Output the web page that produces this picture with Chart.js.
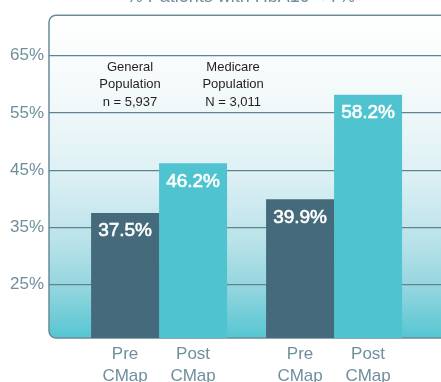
<!DOCTYPE html>
<html>
<head>
<meta charset="utf-8">
<script src="https://cdn.jsdelivr.net/npm/chart.js@4"></script>
<style>
    html, body { margin: 0; padding: 0; background: #fff; }
    #wrap { width: 441px; height: 382px; position: relative; }
</style>
</head>
<body>
<div id="wrap"><canvas id="myChart"></canvas></div>
<script>
const chartTitle = '% Patients with HbA1c < 7%';
const groups = ['General Population', 'Medicare Population'];
const groupSizes = ['n = 5,937', 'N = 3,011'];
const phases = ['Pre CMap', 'Post CMap'];
const preValues = [37.5, 39.9];
const postValues = [46.2, 58.2];
const yTicks = [25, 35, 45, 55, 65];

const FONT = "'Liberation Sans', Arial, sans-serif";
const MUTED = '#6e8f9c';

// one point per group, x is the group index
function toPoints(values) {
    return values.map((v, i) => ({ x: i, y: v }));
}

// rounded plot panel with a white-to-teal gradient
const plotBox = {
    id: 'plotBox',
    beforeDraw(chart) {
        const { ctx, chartArea: a } = chart;
        const r = 7;
        const right = a.right + 10;
        ctx.save();
        ctx.beginPath();
        ctx.moveTo(right, a.top);
        ctx.lineTo(a.left + r, a.top);
        ctx.arcTo(a.left, a.top, a.left, a.top + r, r);
        ctx.lineTo(a.left, a.bottom - r);
        ctx.arcTo(a.left, a.bottom, a.left + r, a.bottom, r);
        ctx.lineTo(right, a.bottom);
        let g = ctx.createLinearGradient(0, a.top, 0, a.bottom);
        g.addColorStop(0, '#ffffff');
        g.addColorStop(0.25, '#f3f9fa');
        g.addColorStop(0.5, '#dcf0f4');
        g.addColorStop(0.7, '#b9e2e9');
        g.addColorStop(0.85, '#92d5de');
        g.addColorStop(1, '#55c6d2');
        ctx.fillStyle = g;
        ctx.fill();
        ctx.strokeStyle = '#6a8c99';
        ctx.lineWidth = 1.5;
        ctx.stroke();
        ctx.restore();
    }
};

// title, group notes, value labels and phase labels under the bars
const textLayer = {
    id: 'textLayer',
    afterDatasetsDraw(chart) {
        const { ctx, chartArea: a, scales } = chart;
        ctx.save();
        ctx.textAlign = 'center';
        ctx.textBaseline = 'middle';

        ctx.fillStyle = MUTED;
        ctx.font = `18px ${FONT}`;
        ctx.fillText(chartTitle, 241, -3);

        const notePos = [-0.166, 0.423];
        ctx.fillStyle = '#231f20';
        ctx.font = `13px ${FONT}`;
        groups.forEach((name, i) => {
            let lines = name.split(' ').concat(groupSizes[i]);
            let x = scales.x.getPixelForValue(notePos[i]);
            lines.forEach((line, k) => ctx.fillText(line, x, a.top + 52 + k * 17.5));
        });

        chart.data.datasets.forEach((ds, i) => {
            chart.getDatasetMeta(i).data.forEach((bar, j) => {
                let label = ds.data[j].y.toFixed(1) + '%';
                ctx.fillStyle = '#ffffff';
                ctx.strokeStyle = '#ffffff';
                ctx.lineWidth = 0.6;
                ctx.font = `19px ${FONT}`;
                ctx.fillText(label, bar.x, bar.y + 18);
                ctx.strokeText(label, bar.x, bar.y + 18);

                ctx.fillStyle = MUTED;
                ctx.font = `17px ${FONT}`;
                phases[i].split(' ').forEach((line, k) => {
                    ctx.fillText(line, bar.x, a.bottom + 16 + k * 22);
                });
            });
        });
        ctx.restore();
    }
};

let ctx = document.getElementById('myChart').getContext('2d');
let myChart = new Chart(ctx, {
    type: 'bar',
    data: {
        datasets: [{
            label: phases[0],
            data: toPoints(preValues),
            backgroundColor: '#456a7b'
        }, {
            label: phases[1],
            data: toPoints(postValues),
            backgroundColor: '#4fc3cf'
        }]
    },
    options: {
        responsive: true,
        maintainAspectRatio: false,
        animation: false,
        layout: { padding: { top: 12, bottom: 44, left: 0, right: 0 } },
        categoryPercentage: 0.777,
        barPercentage: 1,
        plugins: {
            legend: { display: false },
            tooltip: { enabled: false }
        },
        scales: {
            x: {
                type: 'linear',
                bounds: 'data',
                offset: false,
                min: -0.629,
                max: 1.611,
                display: false,
                grid: { offset: false },
                afterBuildTicks: s => { s.ticks = groups.map((g, i) => ({ value: i })); }
            },
            y: {
                bounds: 'data',
                min: 15.65,
                max: 72.1,
                afterBuildTicks: s => { s.ticks = yTicks.map(v => ({ value: v })); },
                afterFit: s => { s.width = 49; },
                border: { display: false },
                grid: {
                    drawTicks: false,
                    color: '#5f8391',
                    lineWidth: 1.3
                },
                ticks: {
                    padding: 5,
                    color: MUTED,
                    font: { family: FONT, size: 17 },
                    callback: v => v + '%'
                }
            }
        }
    },
    plugins: [plotBox, textLayer]
});
</script>
</body>
</html>
